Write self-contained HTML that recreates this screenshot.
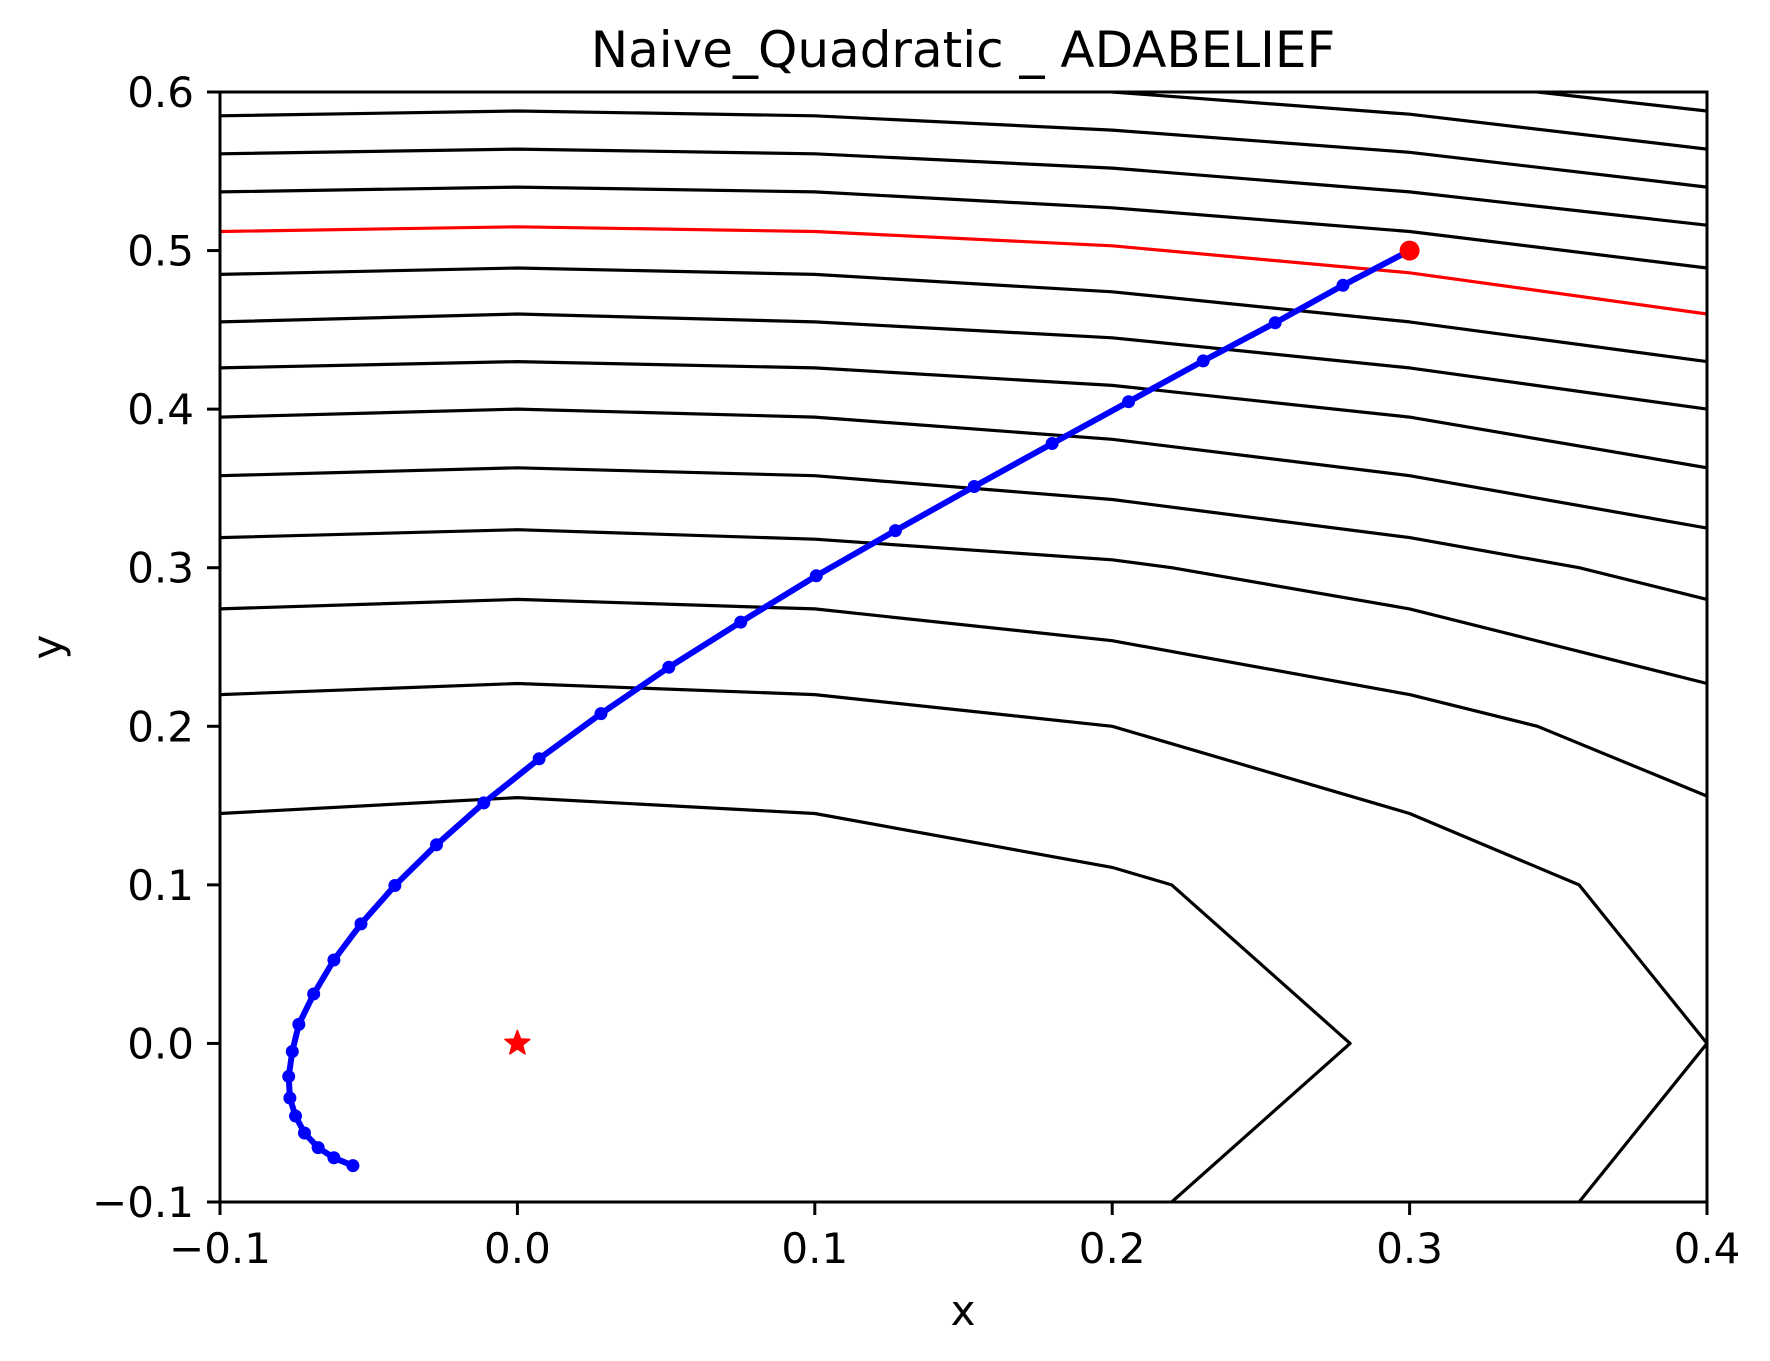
<!DOCTYPE html>
<html><head><meta charset="utf-8"><title>Naive_Quadratic _ ADABELIEF</title>
<style>html,body{margin:0;padding:0;background:#fff;}svg{display:block;font-family:"DejaVu Sans","Liberation Sans",sans-serif;}</style>
</head><body>
<svg id="chart" width="1770" height="1361" viewBox="0 0 1770 1361" xmlns="http://www.w3.org/2000/svg">
<rect width="1770" height="1361" fill="#fff"/>
<text x="963" y="67" font-size="50" text-anchor="middle">Naive_Quadratic _ ADABELIEF</text>
<text x="963" y="1325" font-size="42" text-anchor="middle">x</text>
<text x="62" y="647" font-size="42" text-anchor="middle" transform="rotate(-90 62 647)">y</text>
<g id="plot"></g>
</svg>
<script>
const xTicks = [-0.1, 0.0, 0.1, 0.2, 0.3, 0.4];
const yTicks = [-0.1, 0.0, 0.1, 0.2, 0.3, 0.4, 0.5, 0.6];
const xTickLabels = ["\u22120.1","0.0","0.1","0.2","0.3","0.4"];
const yTickLabels = ["\u22120.1","0.0","0.1","0.2","0.3","0.4","0.5","0.6"];
const contourTop1 = [[0.343,0.6],[0.4,0.588]];
const contourTop2 = [[0.2,0.6],[0.3,0.586],[0.4,0.564]];
const contourL1 = [[-0.1,0.585],[0,0.588],[0.1,0.585],[0.2,0.576],[0.3,0.562],[0.4,0.540]];
const contourL2 = [[-0.1,0.561],[0,0.564],[0.1,0.561],[0.2,0.552],[0.3,0.537],[0.4,0.516]];
const contourL3 = [[-0.1,0.537],[0,0.540],[0.1,0.537],[0.2,0.527],[0.3,0.512],[0.4,0.489]];
const contourRed = [[-0.1,0.512],[0,0.515],[0.1,0.512],[0.2,0.503],[0.3,0.486],[0.4,0.460]];
const contourL5 = [[-0.1,0.485],[0,0.489],[0.1,0.485],[0.2,0.474],[0.3,0.455],[0.4,0.430]];
const contourL6 = [[-0.1,0.455],[0,0.460],[0.1,0.455],[0.2,0.445],[0.3,0.426],[0.4,0.400]];
const contourL7 = [[-0.1,0.426],[0,0.430],[0.1,0.426],[0.2,0.415],[0.3,0.395],[0.4,0.363]];
const contourL8 = [[-0.1,0.395],[0,0.400],[0.1,0.395],[0.2,0.381],[0.3,0.358],[0.4,0.325]];
const contourL9 = [[-0.1,0.358],[0,0.363],[0.1,0.358],[0.2,0.343],[0.3,0.319],[0.357,0.3],[0.4,0.280]];
const contourL10 = [[-0.1,0.319],[0,0.324],[0.1,0.318],[0.2,0.305],[0.22,0.3],[0.3,0.274],[0.4,0.227]];
const contourL11 = [[-0.1,0.274],[0,0.280],[0.1,0.274],[0.2,0.254],[0.3,0.220],[0.343,0.2],[0.4,0.156]];
const contourOuter = [[-0.1,0.220],[0,0.227],[0.1,0.220],[0.2,0.200],[0.3,0.145],[0.357,0.1],[0.4,0.0],[0.357,-0.1]];
const contourInner = [[-0.1,0.145],[0,0.155],[0.1,0.145],[0.2,0.111],[0.22,0.1],[0.28,0.0],[0.22,-0.1]];
const blackContours = [contourTop1,contourTop2,contourL1,contourL2,contourL3,contourL5,contourL6,contourL7,contourL8,contourL9,contourL10,contourL11,contourOuter,contourInner];
const pathX = [0.3,0.2776,0.2548,0.2306,0.2055,0.1798,0.1536,0.1271,0.1005,0.0751,0.0509,0.0281,0.0073,-0.0113,-0.0272,-0.0412,-0.0526,-0.0617,-0.0685,-0.0735,-0.0757,-0.0769,-0.0765,-0.0746,-0.0716,-0.0670,-0.0617,-0.0553];
const pathY = [0.5,0.4781,0.4545,0.4304,0.4047,0.3783,0.3512,0.3234,0.2949,0.2657,0.2372,0.2080,0.1795,0.1517,0.1253,0.0996,0.0754,0.0526,0.0312,0.0120,-0.0051,-0.0208,-0.0344,-0.0458,-0.0565,-0.0657,-0.0721,-0.0771];
const startPoint = [0.3,0.5];
const minimumPoint = [0.0,0.0];

const L=220,R=1707,T=92,B=1202;
const X0=-0.1,X1=0.4,Y0=-0.1,Y1=0.6;
function sx(v){return L+(v-X0)/(X1-X0)*(R-L);}
function sy(v){return B-(v-Y0)/(Y1-Y0)*(B-T);}
const NS="http://www.w3.org/2000/svg";
const g=document.getElementById('plot');
function mk(tag,attrs,parent){const e=document.createElementNS(NS,tag);for(const k in attrs)e.setAttribute(k,attrs[k]);(parent||g).appendChild(e);return e;}

const clip=mk('clipPath',{id:'clipA'});
mk('rect',{x:L,y:T,width:R-L,height:B-T},clip);
const cg=mk('g',{'clip-path':'url(#clipA)'});



function poly(pts){return pts.map(p=>sx(p[0]).toFixed(1)+','+sy(p[1]).toFixed(1)).join(' ');}
blackContours.forEach((c,i)=>{
  const e=mk('polyline',{points:poly(c),fill:'none',stroke:'#000','stroke-width':3.2,'stroke-linejoin':'round'},cg);
  
  
});
const red=mk('polyline',{points:poly(contourRed),fill:'none',stroke:'#ff0000','stroke-width':3.2},cg);



const trajPts=pathX.map((x,i)=>[x,pathY[i]]);
const traj=mk('polyline',{points:poly(trajPts),fill:'none',stroke:'#0000ff','stroke-width':6,'stroke-linejoin':'round'},cg);


trajPts.forEach(p=>{
  const d=mk('circle',{cx:sx(p[0]),cy:sy(p[1]),r:6.5,fill:'#0000ff'},cg);
  
  
});
const sp=mk('circle',{cx:sx(startPoint[0]),cy:sy(startPoint[1]),r:10,fill:'#ff0000'},cg);


(function(){
  const cx=sx(minimumPoint[0]),cy=sy(minimumPoint[1]),ro=13,ri=5.5;let s=[];
  for(let i=0;i<10;i++){const r=i%2?ri:ro;const a=-Math.PI/2+i*Math.PI/5;s.push((cx+r*Math.cos(a)).toFixed(1)+','+(cy+r*Math.sin(a)).toFixed(1));}
  const st=mk('polygon',{points:s.join(' '),fill:'#ff0000',stroke:'#ff0000','stroke-width':1.5,'stroke-linejoin':'round'},cg);
  
  
})();

const frame=mk('rect',{x:L,y:T,width:R-L,height:B-T,fill:'none',stroke:'#000','stroke-width':3});



xTicks.forEach((v,i)=>{
  const x=sx(v);
  const t=mk('line',{x1:x,y1:B,x2:x,y2:B+13,stroke:'#000','stroke-width':3});
  
  
  const lb=mk('text',{x:x,y:1263,'font-size':42,'text-anchor':'middle'});
  lb.textContent=xTickLabels[i];
  
  
});
yTicks.forEach((v,i)=>{
  const y=sy(v);
  const t=mk('line',{x1:L-13,y1:y,x2:L,y2:y,stroke:'#000','stroke-width':3});
  
  
  const lb=mk('text',{x:194,y:y+15,'font-size':42,'text-anchor':'end'});
  lb.textContent=yTickLabels[i];
  
  
});
</script>
</body></html>
